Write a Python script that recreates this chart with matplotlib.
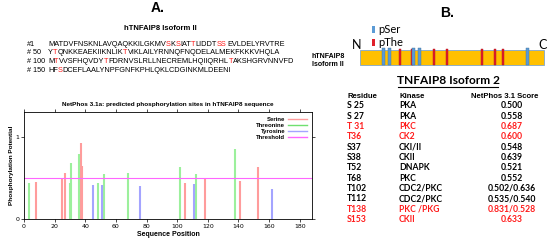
import matplotlib.pyplot as plt
from matplotlib import patches
from matplotlib.lines import Line2D

# sequence of hTNFAIP8 isoform II, split in the four printed lines
seq_labels = ['#1', '# 50', '# 100', '# 150']
seq_lines = ['MATDVFNSKNLAVQAQKKILGKMVSKSIATTLIDDTSSEVLDELYRVTRE',
             'YTQNKKEAEKIIKNLIKTVIKLAILYRNNQFNQDELALMEKFKKKVHQLA',
             'MTVVSFHQVDYTFDRNVSLRLLNECREMLHQIIQRHLTAKSHGRVNNVFD',
             'HFSDCEFLAALYNPFGNFKPHLQKLCDGINKMLDEENI']
seq_red = [25, 27, 31, 37, 38, 52, 68, 102, 112, 138, 153]

# NetPhos predictions
ser_pos = [8, 25, 27, 37, 38, 105, 118, 141, 153]
ser_val = [0.45, 0.50, 0.56, 0.92, 0.64, 0.44, 0.49, 0.46, 0.63]
thr_pos = [3, 30, 31, 36, 48, 52, 68, 102, 112, 138]
thr_val = [0.44, 0.44, 0.685, 0.79, 0.44, 0.55, 0.555, 0.636, 0.545, 0.85]
tyr_pos = [45, 51, 76, 111, 162]
tyr_val = [0.41, 0.41, 0.40, 0.43, 0.36]
threshold = 0.5
seq_len = 188

# schematic marks (fraction along the drawn bar)
pser_marks = [0.125, 0.163, 0.293, 0.321, 0.908]
pthr_marks = [0.217, 0.283, 0.402, 0.473, 0.663, 0.734, 0.777]

# table
tab_residue = ['S 25', 'S 27', 'T 31', 'T36', 'S37', 'S38', 'T52', 'T68',
               'T102', 'T112', 'T138', 'S153']
tab_kinase = ['PKA', 'PKA', 'PKC', 'CK2', 'CKI/II', 'CKII', 'DNAPK', 'PKC',
              'CDC2/PKC', 'CDC2/PKC', 'PKC /PKG', 'CKII']
tab_score = ['0.500', '0.558', '0.687', '0.600', '0.548', '0.639', '0.521',
             '0.552', '0.502/0.636', '0.535/0.540', '0.831/0.528', '0.633']
tab_red = [False, False, True, True, False, False, False, False, False,
           False, True, True]

W, H = 550, 240
fig = plt.figure(figsize=(W / 100, H / 100), dpi=100)
bg = fig.add_axes([0, 0, 1, 1])
bg.set_xlim(0, W)
bg.set_ylim(H, 0)
bg.axis('off')

arial = 'Liberation Sans'
cal = 'Lato'
RED = '#ff1a1a'

# ---- panel A text ----
bg.text(158, 8, 'A.', fontsize=10, fontweight='bold', family=arial,
        ha='center', va='center')
bg.text(160, 29, 'hTNFAIP8 Isoform II', fontsize=5.5, fontweight='bold',
        family=arial, ha='center', va='center')

y0 = 44
start = 1
for i, line in enumerate(seq_lines):
    y = y0 + i * 8.7
    bg.text(27, y, seq_labels[i], fontsize=5.2, family=arial, va='center')
    # split line into runs of same colour
    runs = []
    for j, ch in enumerate(line):
        red = (start + j) in seq_red
        if runs and runs[-1][1] == red:
            runs[-1][0] += ch
        else:
            runs.append([ch, red])
    t = bg.text(48, y, runs[0][0], fontsize=5.3, family=arial, va='center',
                color=RED if runs[0][1] else 'black')
    for s, red in runs[1:]:
        t = bg.annotate(s, xycoords=t, xy=(1, 0), va='bottom', fontsize=5.3,
                        family=arial, color=RED if red else 'black')
    start += len(line)

# ---- NetPhos plot ----
ax = fig.add_axes([24 / W, 1 - 219 / H, (312 - 24) / W, (219 - 112) / H])
lw = 1.5
ax.vlines(ser_pos, 0, ser_val, color='#ff9c9c', lw=lw)
ax.vlines(thr_pos, 0, thr_val, color='#9cf09c', lw=lw)
ax.vlines(tyr_pos, 0, tyr_val, color='#a4a4ff', lw=lw)
ax.axhline(threshold, color='#ff66ff', lw=0.8)
ax.set_xlim(0, seq_len)
ax.set_ylim(0, 1.3)
ax.set_xticks(range(0, 181, 20))
ax.set_yticks([0, 1])
ax.tick_params(labelsize=4.5, length=2, width=0.5, pad=1.5, top=True, right=True)
for sp in ax.spines.values():
    sp.set_linewidth(0.6)
ax.set_title('NetPhos 3.1a: predicted phosphorylation sites in hTNFAIP8 sequence',
             fontsize=4.6, fontweight='bold', pad=4, family=arial)
ax.set_xlabel('Sequence Position', fontsize=5, fontweight='bold', labelpad=1.5,
              family=arial)
ax.set_ylabel('Phosphorylation Potential', fontsize=4.6, fontweight='bold',
              labelpad=1, family=arial)
handles = [Line2D([], [], color='#ff9c9c', lw=1),
           Line2D([], [], color='#70e070', lw=1),
           Line2D([], [], color='#a4a4ff', lw=1),
           Line2D([], [], color='#ff66ff', lw=1)]
ax.legend(handles, ['Serine', 'Threonine', 'Tyrosine', 'Threshold'],
          loc='upper right', markerfirst=False, frameon=False,
          prop={'size': 4.3, 'weight': 'bold', 'family': arial},
          handlelength=3.2, labelspacing=0.15, borderaxespad=0.4,
          handletextpad=0.5)

# ---- panel B schematic ----
bg.text(447, 13, 'B.', fontsize=10, fontweight='bold', family=arial,
        ha='center', va='center')
bar_x0, bar_x1, bar_y0, bar_y1 = 360, 544, 50, 65
bg.add_patch(patches.Rectangle((bar_x0, bar_y0), bar_x1 - bar_x0, bar_y1 - bar_y0,
                               fc='#ffc000', ec='#7ea6d0', lw=0.6))
for f in pthr_marks:
    x = bar_x0 + f * (bar_x1 - bar_x0)
    bg.add_patch(patches.Rectangle((x - 1.3, bar_y0 - 1.5), 2.6, bar_y1 - bar_y0 + 1.5,
                                   fc='#e0202a', ec='#b01020', lw=0.3))
for f in pser_marks:
    x = bar_x0 + f * (bar_x1 - bar_x0)
    bg.add_patch(patches.Rectangle((x - 1.5, bar_y0 - 2), 3, bar_y1 - bar_y0 + 2,
                                   fc='#5b9bd5', ec='#41719c', lw=0.3))
bg.add_patch(patches.Rectangle((372, 26), 2.6, 7, fc='#5b9bd5', ec='none'))
bg.add_patch(patches.Rectangle((372, 38.5), 2.6, 7, fc='#e0202a', ec='none'))
bg.text(378, 29.5, 'pSer', fontsize=8, family=cal, va='center')
bg.text(378, 42, 'pThe', fontsize=8, family=cal, va='center')
bg.text(357, 45, 'N', fontsize=9, family=cal, ha='center', va='center')
bg.text(543, 45, 'C', fontsize=9, family=cal, ha='center', va='center')
bg.text(312, 56, 'hTNFAIP8', fontsize=5, fontweight='bold', family=arial, va='center')
bg.text(312, 65, 'Isoform II', fontsize=5, fontweight='bold', family=arial, va='center')

# ---- table ----
bg.text(448, 80, 'TNFAIP8 Isoform 2', fontsize=8.6, fontweight='bold', family=cal,
        ha='center', va='center')
bg.plot([398, 498], [87, 87], color='black', lw=0.8)
bg.text(347, 96, 'Residue', fontsize=5.6, fontweight='bold', family=arial, va='center')
bg.text(399, 96, 'Kinase', fontsize=5.6, fontweight='bold', family=arial, va='center')
bg.text(471, 96, 'NetPhos 3.1 Score', fontsize=5.6, fontweight='bold', family=arial,
        va='center')
for i in range(len(tab_residue)):
    y = 105.7 + i * 10.33
    c = RED if tab_red[i] else 'black'
    bg.text(347, y, tab_residue[i], fontsize=6.2, fontweight='bold', family=cal,
            color=c, va='center')
    bg.text(399, y, tab_kinase[i], fontsize=6.2, fontweight='bold', family=cal,
            color=c, va='center')
    bg.text(511.5, y, tab_score[i], fontsize=6.2, fontweight='bold', family=cal,
            color=c, va='center', ha='center')

fig.savefig('out.png', dpi=100)
